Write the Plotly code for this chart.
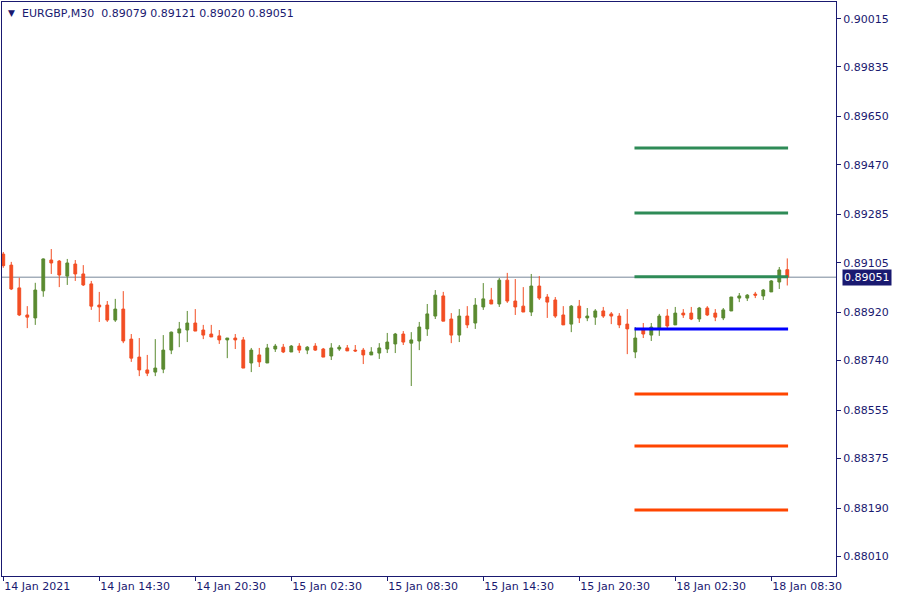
import plotly.graph_objects as go

# ---------------- data ----------------
symbol = "EURGBP,M30"
last_ohlc = ["0.89079", "0.89121", "0.89020", "0.89051"]
current_price = 0.89051

opens = [0.89137, 0.89096, 0.89011, 0.88910, 0.88899, 0.89000, 0.89115, 0.89111, 0.89055, 0.89100,
         0.89063, 0.89026, 0.88947, 0.88947, 0.88891, 0.88932, 0.88820, 0.88753, 0.88705, 0.88697,
         0.88708, 0.88779, 0.88843, 0.88854, 0.88880, 0.88854, 0.88839, 0.88832, 0.88817, 0.88824,
         0.88817, 0.88731, 0.88761, 0.88731, 0.88783, 0.88790, 0.88772, 0.88794, 0.88779, 0.88794,
         0.88783, 0.88757, 0.88783, 0.88787, 0.88779, 0.88779, 0.88761, 0.88768, 0.88783, 0.88802,
         0.88839, 0.88805, 0.88813, 0.88858, 0.88906, 0.88981, 0.88895, 0.88835, 0.88906, 0.88880,
         0.88940, 0.88966, 0.88951, 0.89040, 0.88962, 0.88943, 0.88921, 0.89018, 0.88977, 0.88966,
         0.88910, 0.88876, 0.88943, 0.88899, 0.88902, 0.88925, 0.88914, 0.88906, 0.88876, 0.88772,
         0.88854, 0.88835, 0.88858, 0.88906, 0.88873, 0.88917, 0.88917, 0.88895, 0.88936, 0.88917,
         0.88899, 0.88925, 0.88973, 0.88973, 0.88988, 0.88981, 0.88996, 0.89033, 0.89079]
highs = [0.89145, 0.89108, 0.89049, 0.88943, 0.89030, 0.89121, 0.89156, 0.89115, 0.89119, 0.89115,
         0.89096, 0.89037, 0.88996, 0.88962, 0.88970, 0.88999, 0.88839, 0.88824, 0.88761, 0.88820,
         0.88835, 0.88848, 0.88884, 0.88925, 0.88932, 0.88873, 0.88873, 0.88854, 0.88824, 0.88839,
         0.88828, 0.88787, 0.88787, 0.88802, 0.88802, 0.88802, 0.88798, 0.88805, 0.88794, 0.88805,
         0.88787, 0.88805, 0.88798, 0.88798, 0.88798, 0.88787, 0.88790, 0.88805, 0.88843, 0.88843,
         0.88850, 0.88846, 0.88884, 0.88951, 0.89003, 0.88996, 0.88917, 0.88932, 0.88943, 0.88973,
         0.89029, 0.89011, 0.89048, 0.89067, 0.89044, 0.89014, 0.89063, 0.89055, 0.88988, 0.88977,
         0.88943, 0.88947, 0.88966, 0.88936, 0.88932, 0.88940, 0.88921, 0.88917, 0.88932, 0.88865,
         0.88880, 0.88880, 0.88914, 0.88932, 0.88940, 0.88932, 0.88940, 0.88940, 0.88943, 0.88932,
         0.88936, 0.88977, 0.88992, 0.88988, 0.88996, 0.89007, 0.89040, 0.89089, 0.89121]
lows = [0.89086, 0.89003, 0.88906, 0.88861, 0.88873, 0.88978, 0.89063, 0.89014, 0.89022, 0.89037,
        0.89018, 0.88929, 0.88884, 0.88884, 0.88884, 0.88805, 0.88735, 0.88682, 0.88682, 0.88682,
        0.88693, 0.88764, 0.88790, 0.88809, 0.88850, 0.88820, 0.88828, 0.88802, 0.88749, 0.88783,
        0.88712, 0.88697, 0.88716, 0.88731, 0.88772, 0.88768, 0.88772, 0.88768, 0.88764, 0.88776,
        0.88753, 0.88742, 0.88776, 0.88776, 0.88772, 0.88727, 0.88761, 0.88746, 0.88768, 0.88768,
        0.88798, 0.88645, 0.88779, 0.88832, 0.88895, 0.88887, 0.88805, 0.88809, 0.88861, 0.88858,
        0.88929, 0.88951, 0.88940, 0.88955, 0.88910, 0.88921, 0.88906, 0.88966, 0.88899, 0.88899,
        0.88873, 0.88846, 0.88880, 0.88887, 0.88873, 0.88899, 0.88876, 0.88861, 0.88764, 0.88749,
        0.88824, 0.88813, 0.88832, 0.88854, 0.88873, 0.88899, 0.88891, 0.88884, 0.88906, 0.88887,
        0.88891, 0.88925, 0.88958, 0.88962, 0.88973, 0.88966, 0.88996, 0.89007, 0.89020]
closes = [0.89094, 0.89007, 0.88910, 0.88902, 0.89003, 0.89119, 0.89104, 0.89059, 0.89104, 0.89063,
          0.89022, 0.88943, 0.88940, 0.88891, 0.88932, 0.88813, 0.88749, 0.88705, 0.88693, 0.88712,
          0.88779, 0.88846, 0.88858, 0.88880, 0.88850, 0.88835, 0.88828, 0.88817, 0.88824, 0.88817,
          0.88712, 0.88779, 0.88735, 0.88787, 0.88794, 0.88772, 0.88794, 0.88779, 0.88790, 0.88779,
          0.88753, 0.88787, 0.88790, 0.88776, 0.88776, 0.88761, 0.88772, 0.88787, 0.88809, 0.88839,
          0.88809, 0.88817, 0.88865, 0.88914, 0.88984, 0.88887, 0.88835, 0.88906, 0.88873, 0.88947,
          0.88970, 0.88951, 0.89040, 0.88962, 0.88940, 0.88921, 0.89018, 0.88973, 0.88958, 0.88906,
          0.88873, 0.88943, 0.88899, 0.88906, 0.88925, 0.88906, 0.88906, 0.88873, 0.88858, 0.88824,
          0.88839, 0.88865, 0.88906, 0.88869, 0.88917, 0.88910, 0.88895, 0.88936, 0.88910, 0.88902,
          0.88929, 0.88977, 0.88981, 0.88984, 0.88984, 0.89003, 0.89037, 0.89078, 0.89051]

# x-axis labels (every 12 bars = 6 hours)
xtick_bars = [0, 12, 24, 36, 48, 60, 72, 84, 96]
xtick_labels = ["14 Jan 2021", "14 Jan 14:30", "14 Jan 20:30", "15 Jan 02:30", "15 Jan 08:30",
                "15 Jan 14:30", "15 Jan 20:30", "18 Jan 02:30", "18 Jan 08:30"]

# y-axis labels
ytick_values = [0.90015, 0.89835, 0.89650, 0.89470, 0.89285, 0.89105,
                0.88920, 0.88740, 0.88555, 0.88375, 0.88190, 0.88010]

# pivot levels (R3..S3)
pivot_names = ["R3", "R2", "R1", "P", "S1", "S2", "S3"]
pivot_levels = [0.89533, 0.89290, 0.89053, 0.88858, 0.88615, 0.88421, 0.88183]
pivot_first_bar = 79
pivot_last_bar = 98

# ---------------- style ----------------
NAVY = "#191970"
BULL = "#5a8a30"
BEAR = "#f24e24"
pivot_colors = {"R": "#2e8b57", "P": "#0000ff", "S": "#ff4500"}
FONT = "DejaVu Sans"

x = list(range(len(opens)))

fig = go.Figure()

# current bid line (behind candles)
fig.add_shape(type="line", xref="paper", x0=0, x1=1, yref="y", y0=current_price, y1=current_price,
              line=dict(color="#778899", width=1), layer="below")

fig.add_trace(go.Candlestick(
    x=x, open=opens, high=highs, low=lows, close=closes,
    increasing=dict(fillcolor=BULL, line=dict(color=BULL, width=1)),
    decreasing=dict(fillcolor=BEAR, line=dict(color=BEAR, width=1)),
    whiskerwidth=0, showlegend=False, hoverinfo="skip"))

for name, lvl in zip(pivot_names, pivot_levels):
    fig.add_trace(go.Scatter(
        x=[pivot_first_bar - 0.1, pivot_last_bar + 0.1], y=[lvl, lvl], mode="lines",
        line=dict(color=pivot_colors[name[0]], width=3), showlegend=False, hoverinfo="skip"))

fig.update_layout(
    width=900, height=600,
    margin=dict(l=2, r=64, t=2, b=24),
    paper_bgcolor="white", plot_bgcolor="white",
    boxgap=0.5,
    font=dict(family=FONT, size=11, color=NAVY),
    showlegend=False,
    xaxis=dict(
        range=[-0.16, 104.09], rangeslider=dict(visible=False),
        tickmode="array", tickvals=xtick_bars, ticktext=xtick_labels,
        ticks="outside", ticklen=4, tickcolor=NAVY, tickwidth=1,
        ticklabelposition="outside right",
        showline=True, linecolor=NAVY, linewidth=1, mirror=True,
        showgrid=False, zeroline=False,
        tickfont=dict(family=FONT, size=11, color=NAVY)),
    yaxis=dict(
        range=[0.879365, 0.900773], side="right",
        tickmode="array", tickvals=ytick_values, ticktext=[f"{v:.5f}" for v in ytick_values],
        ticks="outside", ticklen=4, tickcolor=NAVY, tickwidth=1,
        showline=True, linecolor=NAVY, linewidth=1, mirror=True,
        showgrid=False, zeroline=False,
        tickfont=dict(family=FONT, size=11, color=NAVY)),
)

# header
fig.add_annotation(xref="paper", yref="paper", x=0, y=1, xanchor="left", yanchor="top",
                   xshift=4, yshift=-4, text="▼", showarrow=False,
                   font=dict(family=FONT, size=9, color=NAVY))
fig.add_annotation(xref="paper", yref="paper", x=0, y=1, xanchor="left", yanchor="top",
                   xshift=18, yshift=-3, showarrow=False,
                   text=symbol + "  " + " ".join(last_ohlc),
                   font=dict(family=FONT, size=11, color=NAVY))

# current price label on right axis
fig.add_annotation(xref="paper", yref="y", x=1, y=current_price, xanchor="left", yanchor="middle",
                   xshift=6, text=f"{current_price:.5f}", showarrow=False,
                   bgcolor=NAVY, borderpad=1,
                   font=dict(family=FONT, size=11, color="white"))

fig.write_html("out.html", config={"displayModeBar": False},
               post_script="document.body.style.margin='0';document.body.style.overflow='hidden';")
